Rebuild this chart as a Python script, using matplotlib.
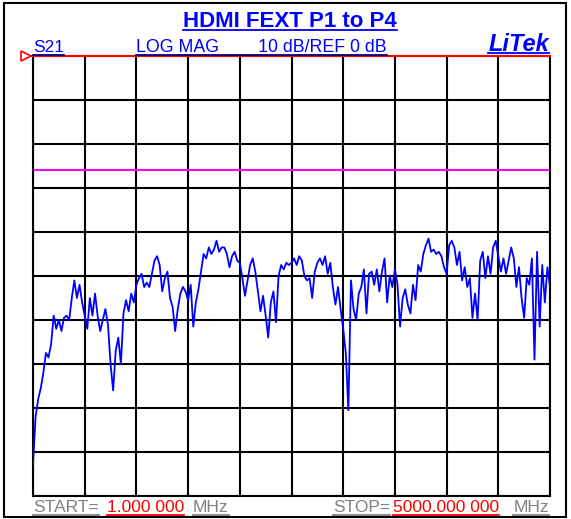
import numpy as np
import matplotlib
matplotlib.use('Agg')
import matplotlib.pyplot as plt
from matplotlib.lines import Line2D

# sweep setup
start_mhz = 1.0
stop_mhz = 5000.0
ref_db = 0
db_per_div = 10
limit_db = -26

# S21 trace (dB), 20 points per division
s21_db = [
    -93, -82, -78, -75.5, -72, -67.5, -68.5, -65.5, -59, -62,
    -60, -62.5, -59.5, -59, -60, -55, -51, -55, -52, -56,
    -59, -62, -55, -59, -54, -59, -62.5, -60, -57.5, -61,
    -70, -76, -67, -64, -70, -58.5, -55.5, -58, -54, -56,
    -52, -50.5, -49.5, -52.5, -51.5, -52.5, -49.5, -46.5, -45.5, -47.5,
    -53.5, -50.5, -49, -55, -57, -62.5, -57.5, -54, -52.5, -53.5,
    -55.5, -52, -61.5, -56, -53, -49, -45, -46, -43.5, -45,
    -44, -42, -44.5, -43.5, -43.5, -45, -48, -45.5, -44.5, -46.5,
    -47, -50.5, -54.5, -51, -47.5, -46, -49, -53.5, -58, -54.5,
    -59, -64, -56, -53.5, -60.5, -50, -47.5, -48.5, -47, -47.5,
    -47, -46, -47.5, -45.5, -46.5, -50, -51, -50.5, -55, -49,
    -47, -46, -47.5, -45.5, -49.5, -47, -52.5, -56.5, -52.5, -57.5,
    -62, -67.5, -80.5, -51, -57.5, -60, -54, -52.5, -48.5, -58.5,
    -49.5, -49, -52, -48.5, -53.5, -49, -46, -56, -50, -52.5,
    -48.5, -52, -61.5, -55, -53, -56.5, -58.5, -52, -55.5, -47.5,
    -49, -45, -43, -41.5, -44.5, -44, -45, -44.5, -45.5, -48,
    -49.5, -43, -42, -43.5, -47.5, -44.5, -51, -48, -52.5, -50.5,
    -59.5, -54, -60, -46.5, -44.5, -50.5, -45.5, -49.5, -43.5, -42,
    -45.5, -49, -46, -49.5, -46.5, -43.5, -46, -52.5, -48, -55,
    -59.5, -50.5, -52, -46, -69, -44.5, -61.5, -47.5, -56, -48,
    -52.5,
]

freq = np.linspace(start_mhz, stop_mhz, len(s21_db))

W, H = 571, 519
plt.rcParams['font.family'] = ['Liberation Sans', 'DejaVu Sans']
fig = plt.figure(figsize=(W / 100, H / 100), dpi=100)
fig.patch.set_facecolor('white')

ax = fig.add_axes([33 / W, 1 - 496 / H, (550 - 33) / W, (496 - 56) / H])
ax.plot(freq, s21_db, color='#0000ff', lw=1.3, zorder=3)
ax.axhline(limit_db, color='#ff00ff', lw=1.5, zorder=2)
ax.set_xlim(start_mhz, stop_mhz)
ax.set_ylim(ref_db - 10 * db_per_div, ref_db)
ax.set_xticks(np.linspace(start_mhz, stop_mhz, 11))
ax.set_yticks(np.arange(ref_db - 10 * db_per_div, ref_db + 1, db_per_div))
ax.grid(True, color='black', lw=1.5)
ax.set_axisbelow(True)
ax.tick_params(length=0, labelbottom=False, labelleft=False)
for s in ax.spines.values():
    s.set_color('black')
    s.set_linewidth(1.5)
ax.spines['top'].set_color('red')

# reference marker and red ref line stub
fig.add_artist(Line2D([27 / W, 33 / W], [1 - 56 / H] * 2, color='red', lw=1.5,
                      transform=fig.transFigure))
fig.add_artist(Line2D([26 / W], [1 - 56 / H], marker='>', ms=7, mfc='white',
                      mec='red', mew=1.2, transform=fig.transFigure))

# outer frame
fig.add_artist(plt.Rectangle((4 / W, 2 / H), (566 - 4) / W, (516 - 2) / H,
                             fill=False, ec='black', lw=1.5,
                             transform=fig.transFigure))

labels = []


def label(x, y, s, color, ucolor=None, ha='left', **kw):
    t = fig.text(x / W, 1 - y / H, s, color=color, ha=ha, va='baseline', **kw)
    labels.append((t, y, ucolor or color))


label(290, 27, 'HDMI FEXT P1 to P4', '#0000ff', ha='center', fontsize=16,
      fontweight='bold')
label(33, 52, 'S21', '#0000ff', '#000080', fontsize=12.5)
label(136, 52, 'LOG MAG        10 dB/REF 0 dB', '#0000ff', '#000080',
      fontsize=12.8)
label(549, 51, 'LiTek', '#0000ff', ha='right', fontsize=17, fontweight='bold',
      fontstyle='italic')

gray = '#808080'
label(33, 512, 'START=', gray, fontsize=12.5)
label(107, 512, '1.000 000', 'red', fontsize=12.5)
label(193, 512, 'MHz', gray, fontsize=12.5)
label(333, 512, 'STOP=', gray, fontsize=12.5)
label(393, 512, '5000.000 000', 'red', fontsize=12.5)
label(549, 512, 'MHz', gray, ha='right', fontsize=12.5)

fig.canvas.draw()
for t, y, c in labels:
    bb = t.get_window_extent()
    yy = 1 - (y + 2.5) / H
    fig.add_artist(Line2D([bb.x0 / W, bb.x1 / W], [yy, yy], color=c, lw=1.3,
                          transform=fig.transFigure))

fig.savefig('out.png', dpi=100)
